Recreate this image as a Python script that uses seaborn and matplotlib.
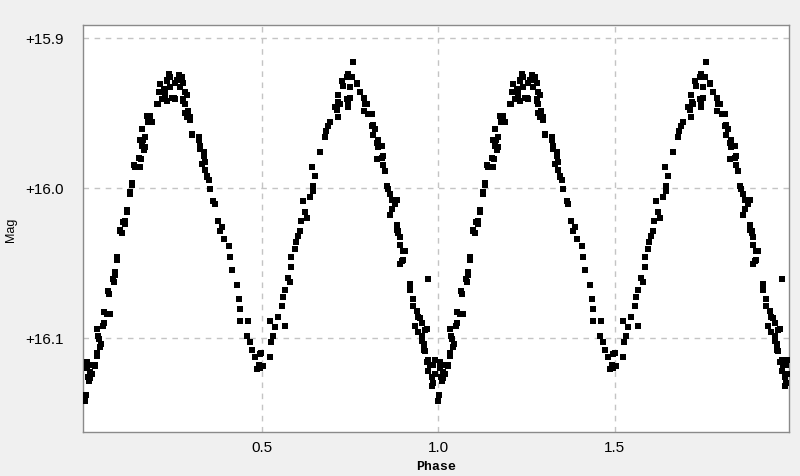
import numpy as np
import pandas as pd
import matplotlib
matplotlib.use('Agg')
import matplotlib.pyplot as plt
import seaborn as sns

# one cycle of the folded light curve (drawn twice: 0-1 and 1-2)
phase = [
    0.000, 0.002, 0.004, 0.005, 0.008, 0.010, 0.013, 0.014, 0.016, 0.019,
    0.027, 0.028, 0.032, 0.033, 0.032, 0.037, 0.038, 0.042, 0.045, 0.051,
    0.052, 0.052, 0.060, 0.071, 0.065, 0.066, 0.079, 0.080, 0.084, 0.085,
    0.089, 0.090, 0.098, 0.099, 0.104, 0.108, 0.112, 0.113, 0.117, 0.118,
    0.127, 0.127, 0.131, 0.132, 0.137, 0.141, 0.151, 0.151, 0.155, 0.156,
    0.159, 0.160, 0.160, 0.164, 0.165, 0.169, 0.169, 0.175, 0.178, 0.179,
    0.183, 0.188, 0.203, 0.207, 0.208, 0.211, 0.212, 0.217, 0.221, 0.222,
    0.226, 0.226, 0.230, 0.231, 0.231, 0.236, 0.240, 0.241, 0.245, 0.250,
    0.255, 0.255, 0.259, 0.264, 0.269, 0.274, 0.274, 0.278, 0.278, 0.278,
    0.283, 0.283, 0.283, 0.288, 0.288, 0.292, 0.297, 0.297, 0.302, 0.302,
    0.321, 0.321, 0.325, 0.325, 0.330, 0.335, 0.335, 0.339, 0.340, 0.344,
    0.344, 0.349, 0.354, 0.363, 0.368, 0.377, 0.382, 0.387, 0.392, 0.406,
    0.410, 0.415, 0.429, 0.434, 0.439, 0.439, 0.458, 0.462, 0.467, 0.472,
    0.481, 0.486, 0.491, 0.495, 0.494, 0.499, 0.504, 0.523, 0.523, 0.527,
    0.532, 0.537, 0.546, 0.556, 0.561, 0.565, 0.565, 0.575, 0.579, 0.584,
    0.584, 0.594, 0.598, 0.603, 0.608, 0.612, 0.617, 0.622, 0.627, 0.636,
    0.641, 0.645, 0.645, 0.650, 0.664, 0.678, 0.683, 0.688, 0.693, 0.707,
    0.712, 0.716, 0.716, 0.717, 0.721, 0.727, 0.730, 0.740, 0.740, 0.744,
    0.745, 0.745, 0.750, 0.750, 0.757, 0.755, 0.769, 0.769, 0.778, 0.788,
    0.788, 0.793, 0.797, 0.802, 0.811, 0.811, 0.816, 0.816, 0.821, 0.825,
    0.825, 0.830, 0.830, 0.840, 0.840, 0.844, 0.844, 0.849, 0.854, 0.858,
    0.863, 0.863, 0.868, 0.868, 0.877, 0.882, 0.882, 0.882, 0.887, 0.887,
    0.892, 0.892, 0.892, 0.896, 0.901, 0.901, 0.906, 0.920, 0.920, 0.929,
    0.929, 0.934, 0.939, 0.943, 0.943, 0.948, 0.953, 0.953, 0.953, 0.958,
    0.958, 0.962, 0.962, 0.967, 0.967, 0.972, 0.972, 0.972, 0.976, 0.981,
    0.981, 0.986, 0.986, 0.991, 0.991,
]
mag = [
    16.142, 16.138, 16.116, 16.120, 16.126, 16.129, 16.123, 16.127, 16.118, 16.124,
    16.118, 16.119, 16.112, 16.110, 16.094, 16.099, 16.101, 16.106, 16.104, 16.092,
    16.090, 16.083, 16.084, 16.084, 16.069, 16.071, 16.061, 16.063, 16.056, 16.058,
    16.048, 16.046, 16.029, 16.028, 16.030, 16.023, 16.024, 16.022, 16.016, 16.015,
    16.004, 16.003, 15.998, 15.997, 15.985, 15.986, 15.980, 15.986, 15.986, 15.968,
    15.981, 15.972, 15.961, 15.968, 15.975, 15.966, 15.973, 15.952, 15.956, 15.955,
    15.952, 15.956, 15.944, 15.944, 15.936, 15.931, 15.931, 15.941, 15.941, 15.934,
    15.936, 15.938, 15.928, 15.929, 15.942, 15.924, 15.926, 15.933, 15.940, 15.940,
    15.930, 15.941, 15.928, 15.925, 15.933, 15.926, 15.928, 15.930, 15.941, 15.942,
    15.936, 15.944, 15.950, 15.938, 15.953, 15.949, 15.953, 15.955, 15.964, 15.965,
    15.966, 15.968, 15.974, 15.972, 15.984, 15.979, 15.976, 15.983, 15.988, 15.993,
    15.992, 15.995, 16.001, 16.009, 16.011, 16.022, 16.029, 16.026, 16.034, 16.039,
    16.046, 16.055, 16.065, 16.074, 16.081, 16.089, 16.099, 16.089, 16.103, 16.108,
    16.113, 16.121, 16.118, 16.111, 16.120, 16.110, 16.119, 16.113, 16.089, 16.103,
    16.099, 16.093, 16.086, 16.079, 16.073, 16.092, 16.068, 16.060, 16.063, 16.053,
    16.046, 16.041, 16.036, 16.032, 16.029, 16.022, 16.009, 16.016, 16.020, 16.006,
    15.986, 16.002, 15.999, 15.992, 15.976, 15.966, 15.962, 15.959, 15.956, 15.946,
    15.948, 15.953, 15.938, 15.943, 15.944, 15.929, 15.932, 15.926, 15.941, 15.942,
    15.924, 15.946, 15.933, 15.940, 15.916, 15.926, 15.930, 15.931, 15.936, 15.940,
    15.949, 15.944, 15.944, 15.951, 15.959, 15.951, 15.965, 15.958, 15.961, 15.970,
    15.981, 15.973, 15.968, 15.972, 15.980, 15.979, 15.985, 15.989, 15.999, 16.001,
    16.004, 16.018, 16.014, 16.008, 16.011, 16.008, 16.025, 16.028, 16.029, 16.030,
    16.033, 16.038, 16.051, 16.049, 16.042, 16.048, 16.042, 16.064, 16.068, 16.074,
    16.079, 16.092, 16.082, 16.086, 16.096, 16.087, 16.090, 16.099, 16.102, 16.104,
    16.108, 16.095, 16.109, 16.094, 16.116, 16.061, 16.115, 16.122, 16.118, 16.126,
    16.132, 16.118, 16.130, 16.115, 16.124,
]
x_ticks = [0.5, 1.0, 1.5]
y_ticks = [15.9, 16.0, 16.1]
y_labels = ['+15.9', '+16.0', '+16.1']

ph = np.array(phase)
mg = np.array(mag)
df = pd.DataFrame({'Phase': np.concatenate([ph, ph + 1]),
                   'Mag': np.concatenate([mg, mg])})

plt.rcParams['font.family'] = ['Liberation Sans', 'DejaVu Sans']
fig = plt.figure(figsize=(8, 4.77), dpi=100, facecolor='#f0f0f0')
ax = fig.add_axes([0.104, 0.092, 0.882, 0.853])
ax.set_facecolor('white')

sns.scatterplot(x='Phase', y='Mag', data=df, marker='s', s=15,
                color='black', linewidth=0, ax=ax, zorder=3)

ax.set_xlim(-0.006, 1.9926)
ax.set_ylim(16.163, 15.8915)
ax.set_xticks(x_ticks)
ax.set_xticklabels([f'{t:.1f}' for t in x_ticks])
ax.set_yticks(y_ticks)
ax.set_yticklabels(y_labels)
ax.tick_params(length=0, labelsize=11, colors='#000000')
ax.tick_params(axis='y', pad=14)
ax.tick_params(axis='x', pad=6)
ax.grid(True, color='#c4c4c4', linestyle=(0, (4, 4)), linewidth=1)

for sp in ax.spines.values():
    sp.set_color('#8a8a8a')
    sp.set_linewidth(1)

ax.set_xlabel('Phase', family=['Liberation Mono', 'DejaVu Sans Mono'],
              fontweight='bold', fontsize=9.5, labelpad=4)
ax.set_ylabel('Mag', fontsize=9)
ax.yaxis.set_label_coords(-0.094, 0.5)

fig.savefig('out.png', dpi=100, facecolor=fig.get_facecolor())
